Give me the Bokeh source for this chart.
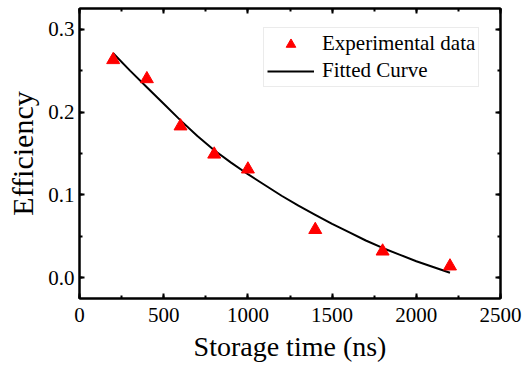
from bokeh.plotting import figure
from bokeh.models import (LinearAxis, SingleIntervalTicker, PrintfTickFormatter,
                          CustomJSTickFormatter, Range1d, Legend, LegendItem)
from bokeh.embed import file_html
from bokeh.resources import INLINE

# Experimental data
exp_time = [200, 400, 600, 800, 1000, 1400, 1800, 2200]
exp_eff = [0.263, 0.240, 0.183, 0.149, 0.131, 0.058, 0.032, 0.014]

# Fitted curve
fit_time = [200, 300, 400, 500, 600, 700, 800, 900, 1000, 1100, 1200,
            1300, 1400, 1500, 1600, 1700, 1800, 1900, 2000, 2100, 2200]
fit_eff = [0.271, 0.250, 0.230, 0.210, 0.190, 0.171, 0.154, 0.139, 0.125, 0.112, 0.099,
           0.087, 0.076, 0.065, 0.055, 0.045, 0.036, 0.028, 0.020, 0.013, 0.006]

FONT = "Liberation Serif"

p = figure(width=527, height=369, output_backend="svg", toolbar_location=None,
           x_range=Range1d(0, 2500), y_range=Range1d(-0.025, 0.325),
           min_border_left=79, min_border_right=27, min_border_top=8, min_border_bottom=71,
           x_axis_label="Storage time (ns)", y_axis_label="Efficiency")

p.xgrid.visible = False
p.ygrid.visible = False
p.outline_line_color = "black"
p.outline_line_width = 2
p.background_fill_color = "white"
p.border_fill_color = "white"

xt = SingleIntervalTicker(interval=500, num_minor_ticks=2)
yt = SingleIntervalTicker(interval=0.1, num_minor_ticks=2)

def style_axis(ax):
    ax.axis_line_color = "black"
    ax.axis_line_width = 2
    ax.major_tick_line_color = "black"
    ax.major_tick_line_width = 2
    ax.minor_tick_line_color = "black"
    ax.minor_tick_line_width = 2
    ax.major_tick_in = 5
    ax.major_tick_out = 0
    ax.minor_tick_in = 3
    ax.minor_tick_out = 0
    ax.major_label_text_font = FONT
    ax.major_label_text_font_size = "21px"
    ax.major_label_text_color = "black"
    ax.axis_label_text_font = FONT
    ax.axis_label_text_font_size = "28px"
    ax.axis_label_text_font_style = "normal"
    ax.axis_label_text_color = "black"

xa = p.xaxis[0]
xa.ticker = xt
style_axis(xa)
xa.major_label_standoff = 9
xa.axis_label_standoff = 6

ya = p.yaxis[0]
ya.ticker = yt
ya.formatter = PrintfTickFormatter(format="%.1f")
style_axis(ya)
ya.axis_label_text_font_size = "30px"
ya.major_label_standoff = 5
ya.axis_label_standoff = 6

top = LinearAxis(ticker=SingleIntervalTicker(interval=500, num_minor_ticks=2),
                 formatter=CustomJSTickFormatter(code="return ''"))
style_axis(top)
top.major_label_standoff = 0
p.add_layout(top, "above")

right = LinearAxis(ticker=SingleIntervalTicker(interval=0.1, num_minor_ticks=2),
                   formatter=CustomJSTickFormatter(code="return ''"))
style_axis(right)
right.major_label_standoff = 0
p.add_layout(right, "right")

fit = p.line(fit_time, fit_eff, line_color="black", line_width=2)
pts = p.scatter(exp_time, exp_eff, marker="triangle", size=13,
                fill_color="red", line_color="red")

legend = Legend(items=[LegendItem(label="Experimental data", renderers=[pts]),
                       LegendItem(label="Fitted Curve", renderers=[fit])],
                location=(184, 211))
legend.label_text_font = FONT
legend.label_text_font_size = "21px"
legend.label_text_color = "black"
legend.glyph_width = 47
legend.glyph_height = 24
legend.label_height = 24
legend.label_standoff = 8
legend.spacing = 2
legend.padding = 3
legend.margin = 0
legend.border_line_color = "#d8d8d8"
legend.border_line_width = 1
legend.background_fill_alpha = 1
p.add_layout(legend)

open("out.html", "w").write(file_html(p, INLINE))
